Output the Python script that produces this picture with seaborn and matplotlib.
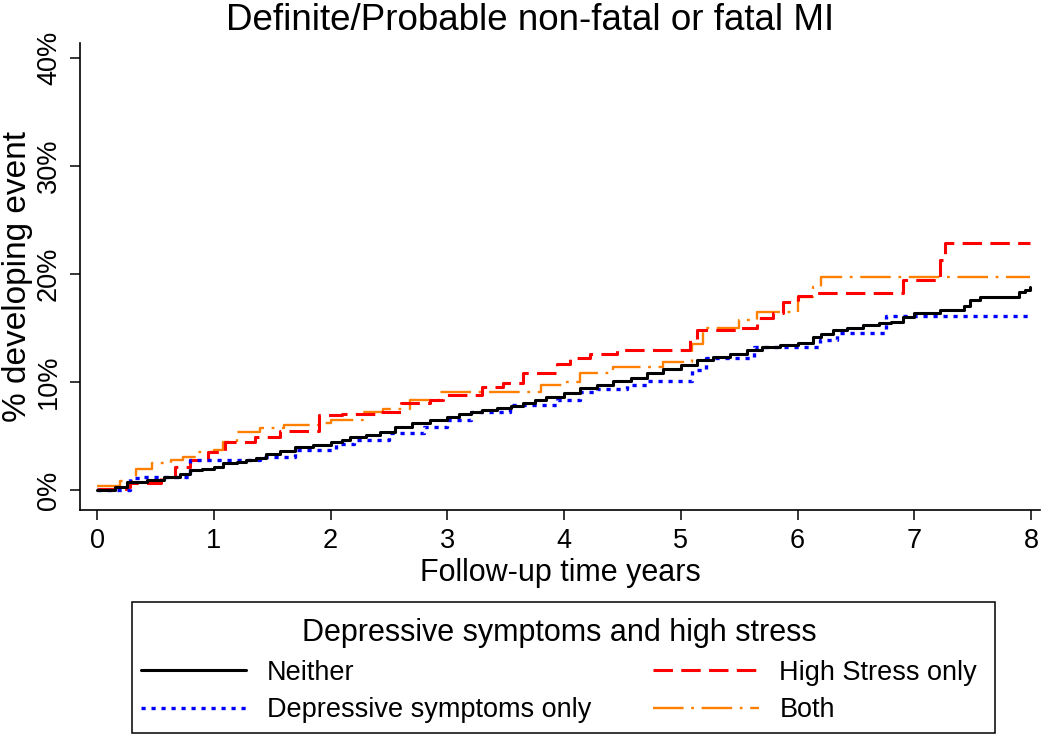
import matplotlib
matplotlib.use("Agg")
import matplotlib.pyplot as plt
from matplotlib.patches import Rectangle
from matplotlib.lines import Line2D
import seaborn as sns

# ---- data (percent developing event vs follow-up years) ----
neither_t = [0.00, 0.15, 0.26, 0.43, 0.57, 0.71, 0.80, 0.90, 1.00, 1.08,
             1.20, 1.28, 1.36, 1.45, 1.57, 1.70, 1.85, 2.00, 2.10, 2.17,
             2.30, 2.42, 2.55, 2.70, 2.85, 3.00, 3.10, 3.20, 3.30, 3.43,
             3.55, 3.65, 3.75, 3.85, 4.00, 4.14, 4.28, 4.42, 4.57, 4.71,
             4.85, 5.00, 5.14, 5.28, 5.42, 5.57, 5.70, 5.85, 6.00, 6.13,
             6.20, 6.30, 6.42, 6.56, 6.70, 6.80, 6.90, 7.00, 7.22, 7.43,
             7.48, 7.56, 7.90, 7.95, 7.99]
neither_v = [0.0, 0.3, 0.75, 0.9, 1.2, 1.5, 1.85, 1.95, 2.1, 2.5,
             2.6, 2.8, 3.0, 3.3, 3.6, 4.0, 4.2, 4.4, 4.6, 4.9,
             5.1, 5.4, 5.8, 6.2, 6.5, 6.8, 7.0, 7.2, 7.4, 7.6,
             7.8, 8.1, 8.3, 8.6, 9.0, 9.4, 9.7, 10.1, 10.4, 10.8,
             11.2, 11.6, 12.0, 12.3, 12.6, 13.0, 13.2, 13.4, 13.6, 14.2,
             14.4, 14.8, 15.0, 15.3, 15.5, 15.6, 16.0, 16.4, 16.7, 17.0,
             17.6, 17.9, 18.3, 18.5, 18.8]

depr_t = [0.00, 0.28, 0.37, 0.80, 1.40, 1.70, 2.05, 2.20, 2.50, 2.80,
          3.00, 3.20, 3.54, 3.94, 4.14, 4.28, 4.54, 4.71, 5.10, 5.22,
          5.63, 6.19, 6.34, 6.76, 7.99]
depr_v = [0.0, 1.1, 1.2, 2.8, 3.05, 3.7, 4.3, 4.6, 5.3, 5.8,
          6.5, 7.2, 7.9, 8.3, 9.1, 9.35, 9.7, 10.1, 11.1, 12.2,
          13.2, 13.9, 14.5, 16.1, 16.1]

high_t = [0.00, 0.25, 0.28, 0.55, 0.67, 0.80, 0.95, 1.10, 1.35, 1.57,
          1.90, 2.10, 2.42, 2.60, 2.85, 2.96, 3.30, 3.48, 3.65, 3.94,
          4.05, 4.22, 4.45, 5.08, 5.14, 5.50, 5.65, 5.79, 5.88, 6.00,
          6.13, 6.90, 7.22, 7.26, 7.99]
high_v = [0.1, 0.3, 0.65, 1.2, 2.1, 2.8, 3.5, 4.4, 4.9, 5.5,
          6.9, 7.0, 7.2, 8.1, 8.3, 8.8, 9.5, 9.9, 10.8, 11.7,
          12.2, 12.6, 13.0, 13.9, 14.8, 15.0, 15.9, 16.4, 17.4, 18.0,
          18.2, 19.4, 21.3, 22.9, 22.9]

both_t = [0.00, 0.20, 0.33, 0.47, 0.63, 0.74, 0.86, 1.00, 1.08, 1.20,
          1.40, 1.60, 1.90, 2.00, 2.28, 2.45, 2.68, 2.94, 3.80, 4.00,
          4.14, 4.42, 4.85, 5.10, 5.19, 5.50, 5.65, 6.00, 6.13, 6.20,
          7.99]
both_v = [0.4, 0.8, 1.9, 2.5, 2.8, 3.05, 3.5, 3.7, 4.4, 5.4,
          5.7, 6.0, 6.2, 6.5, 7.2, 7.5, 8.3, 9.1, 9.7, 10.0,
          10.8, 11.4, 11.85, 13.5, 15.0, 15.7, 16.5, 17.9, 18.8, 19.7,
          19.7]

labels = ["Neither", "Depressive symptoms only", "High Stress only", "Both"]
x_ticks = [0, 1, 2, 3, 4, 5, 6, 7, 8]
y_ticks = [0, 10, 20, 30, 40]
y_ticklabels = ["0%", "10%", "20%", "30%", "40%"]

title = "Definite/Probable non-fatal or fatal MI"
xlabel = "Follow-up time years"
ylabel = "% developing event"
legend_title = "Depressive symptoms and high stress"

# ---- style ----
sns.set_style("ticks")
plt.rcParams["font.family"] = ["Liberation Sans", "DejaVu Sans"]
plt.rcParams["lines.scale_dashes"] = False
plt.rcParams["text.color"] = "black"
plt.rcParams["axes.labelcolor"] = "black"
plt.rcParams["xtick.color"] = "black"
plt.rcParams["ytick.color"] = "black"

W, H = 1050, 735
fig = plt.figure(figsize=(W / 100, H / 100), dpi=100)
fig.patch.set_facecolor("white")

# axes: left spine at x=80, bottom at y=510, top at y=43, right at 1040
ax = fig.add_axes([80 / W, 1 - 510 / H, (1040 - 80) / W, (510 - 43) / H])
ax.set_facecolor("white")

series = [
    (neither_t, neither_v, "black", "-", 2.2),
    (depr_t, depr_v, "#0000ff", (0, (3.0, 4.2)), 2.4),
    (high_t, high_v, "#ff0000", (0, (14.0, 6.0)), 2.2),
    (both_t, both_v, "#ff7f00", (0, (22.0, 5.5, 2.0, 5.5)), 1.7),
]
for i in [3, 2, 1, 0]:
    t, v, c, ls, lw = series[i]
    sns.lineplot(x=t, y=v, ax=ax, color=c, linestyle=ls, linewidth=lw,
                 drawstyle="steps-post", estimator=None, sort=False,
                 zorder=3 + (3 - i) * 0.1)

# scale: 0 at x=97, 8 at x=1031 ; 0% at y=490, 10 per 108 px
px_per_year = (1031 - 97) / 8
ax.set_xlim(-(97 - 80) / px_per_year, 8 + (1040 - 1031) / px_per_year)
px_per_pct = 10.8
ax.set_ylim(-(510 - 490) / px_per_pct, (490 - 43) / px_per_pct)

ax.set_xticks(x_ticks)
ax.set_xticklabels([str(x) for x in x_ticks])
ax.set_yticks(y_ticks)
ax.set_yticklabels(y_ticklabels, rotation=90, va="center")

for side in ["top", "right"]:
    ax.spines[side].set_visible(False)
for side in ["left", "bottom"]:
    ax.spines[side].set_color("black")
    ax.spines[side].set_linewidth(1.2)

ax.tick_params(axis="both", direction="out", length=7, width=1.1,
               color="black", labelsize=19.5, labelcolor="black", pad=6)

ax.set_xlabel(xlabel, fontsize=22, color="black")
ax.xaxis.set_label_coords(0.5, -(558 - 510) / (510 - 43))
ax.set_ylabel(ylabel, fontsize=24, color="black")
ax.yaxis.set_label_coords(-(80 - 33) / (1040 - 80), 0.5)
ax.grid(False)

fig.text(530 / W, 1 - 30 / H, title, fontsize=26.5, ha="center",
         va="baseline", color="black")

# legend
handles = []
for i in [0, 1, 2, 3]:
    t, v, c, ls, lw = series[i]
    handles.append(Line2D([0], [0], color=c, linestyle=ls, linewidth=lw))
leg = fig.legend(handles, labels, ncol=2, frameon=False,
                 loc="upper center", bbox_to_anchor=(559 / W, 1 - 594 / H),
                 fontsize=19.5, title=legend_title, title_fontsize=22,
                 handlelength=3.9, handletextpad=0.75, columnspacing=2.3,
                 labelspacing=0.42, borderpad=0.4)
leg.get_title().set_color("black")
for txt in leg.get_texts():
    txt.set_color("black")

fig.patches.append(Rectangle((132 / W, 1 - 733 / H), (995 - 132) / W,
                             (733 - 602) / H, transform=fig.transFigure,
                             fill=False, edgecolor="black", linewidth=1.1,
                             figure=fig))

fig.savefig("out.png", dpi=100, facecolor="white")
